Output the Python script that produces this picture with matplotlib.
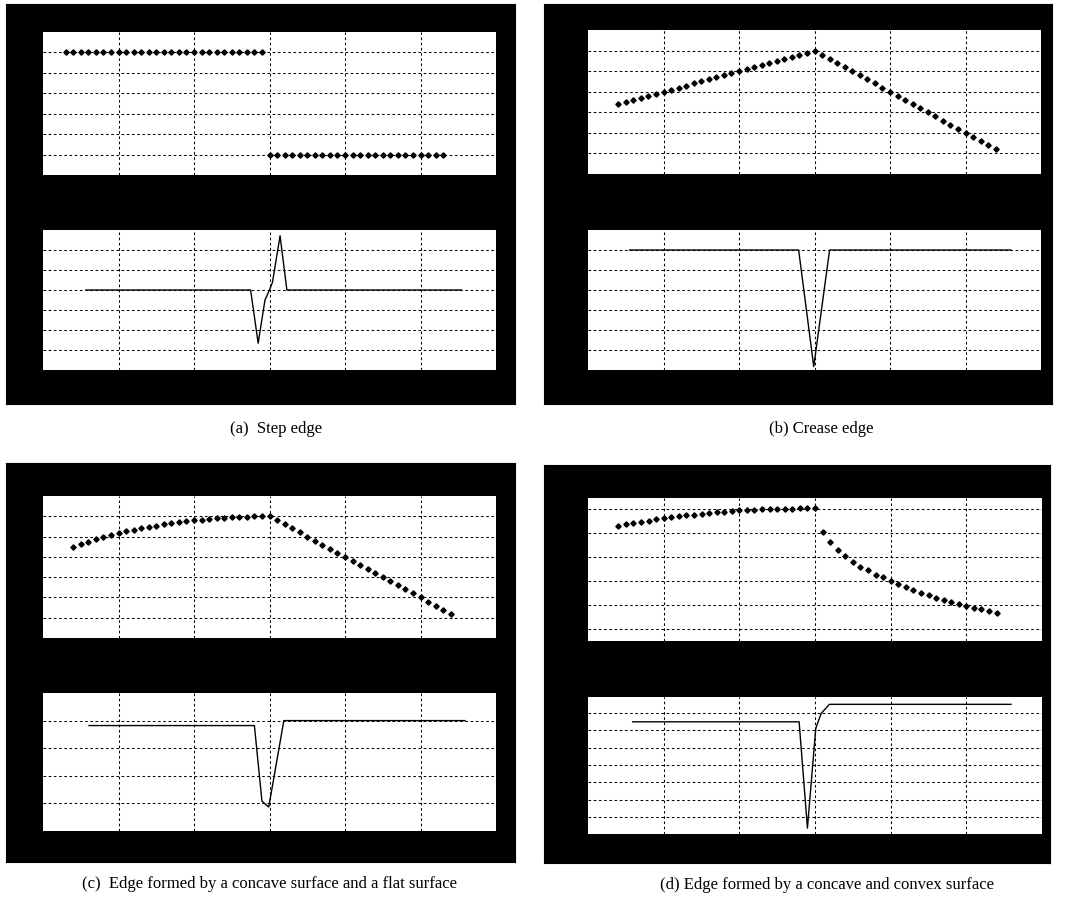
import matplotlib
matplotlib.use("Agg")
import matplotlib.pyplot as plt

W, H = 1069, 898

#%% data (x in sample units, y in grid levels)
x_pts_a = [3, 4, 5, 6, 7, 8, 9, 10, 11, 12, 13, 14, 15, 16, 17, 18, 19, 20, 21, 22, 23, 24, 25, 26, 27, 28, 29,
           30, 31, 32, 33, 34, 35, 36, 37, 38, 39, 40, 41, 42, 43, 44, 45, 46, 47, 48, 49, 50, 51, 52, 53]
y_pts_a = [6, 6, 6, 6, 6, 6, 6, 6, 6, 6, 6, 6, 6, 6, 6, 6, 6, 6, 6, 6, 6, 6, 6, 6, 6, 6, 6,
           1, 1, 1, 1, 1, 1, 1, 1, 1, 1, 1, 1, 1, 1, 1, 1, 1, 1, 1, 1, 1, 1, 1, 1]

x_pts = [4, 5, 6, 7, 8, 9, 10, 11, 12, 13, 14, 15, 16, 17, 18, 19, 20, 21, 22, 23, 24, 25, 26, 27, 28, 29, 30,
         31, 32, 33, 34, 35, 36, 37, 38, 39, 40, 41, 42, 43, 44, 45, 46, 47, 48, 49, 50, 51, 52, 53, 54]
y_pts_b = [3.4, 3.5, 3.6, 3.7, 3.8, 3.9, 4.0, 4.1, 4.2, 4.3, 4.4, 4.5, 4.6, 4.7, 4.8, 4.9, 5.0, 5.1, 5.2,
           5.3, 5.4, 5.5, 5.6, 5.7, 5.8, 5.9, 6.0,
           5.8, 5.6, 5.4, 5.2, 5.0, 4.8, 4.6, 4.4, 4.2, 4.0, 3.8, 3.6, 3.4, 3.2, 3.0, 2.8, 2.6, 2.4,
           2.2, 2.0, 1.8, 1.6, 1.4, 1.2]
y_pts_c = [4.51, 4.64, 4.75, 4.88, 4.96, 5.08, 5.17, 5.27, 5.34, 5.40, 5.47, 5.53, 5.60, 5.66, 5.71,
           5.76, 5.81, 5.84, 5.87, 5.90, 5.94, 5.95, 5.97, 5.98, 6.0, 6.0, 6.0,
           5.81, 5.61, 5.40, 5.21, 5.00, 4.79, 4.58, 4.40, 4.19, 3.99, 3.78, 3.59, 3.39, 3.18, 3.00,
           2.81, 2.62, 2.41, 2.20, 2.00, 1.79, 1.60, 1.39, 1.19]
y_pts_d = [4.29, 4.36, 4.40, 4.45, 4.50, 4.56, 4.60, 4.64, 4.68, 4.72, 4.75, 4.79, 4.82, 4.85, 4.86,
           4.90, 4.93, 4.94, 4.96, 4.97, 4.99, 4.99, 5.0, 5.0, 5.01, 5.01, 5.01,
           4.02, 3.60, 3.30, 3.05, 2.80, 2.60, 2.44, 2.27, 2.15, 2.01, 1.87, 1.76, 1.63, 1.52, 1.41,
           1.32, 1.23, 1.15, 1.07, 0.98, 0.90, 0.83, 0.76, 0.69]

# lower traces (polyline vertices)
x_line_a = [5.7, 27.5, 28.5, 29.4, 30.0, 30.4, 31.4, 32.3, 55.4]
y_line_a = [4, 4, 1.34, 3.5, 4.0, 4.4, 6.71, 4, 4]
x_line_b = [5.5, 27.9, 29.9, 32.0, 56]
y_line_b = [6, 6, 0.17, 6, 6]
x_line_c = [6.1, 28.0, 29.0, 29.9, 31.9, 55.9]
y_line_c = [3.82, 3.82, 1.08, 0.87, 4.0, 4.0]
x_line_d = [5.9, 27.9, 29.0, 30.1, 30.8, 31.9, 55.9]
y_line_d = [5.47, 5.47, -0.61, 5.09, 5.94, 6.47, 6.47]

captions = ["(a)  Step edge", "(b) Crease edge",
            "(c)  Edge formed by a concave surface and a flat surface",
            "(d) Edge formed by a concave and convex surface"]


def rect(x0, y0, x1, y1):
    return [x0 / W, 1 - y1 / H, (x1 - x0) / W, (y1 - y0) / H]


def grid_axes(fig, r, ylim, yticks):
    ax = fig.add_axes(r)
    ax.set_facecolor("white")
    ax.set_xlim(0, 60)
    ax.set_ylim(*ylim)
    ax.set_xticks([10, 20, 30, 40, 50])
    ax.set_yticks(yticks)
    ax.tick_params(length=0, labelbottom=False, labelleft=False)
    for s in ax.spines.values():
        s.set_visible(False)
    ax.grid(True, color="black", linestyle=(0, (2.5, 2.5)), linewidth=0.75)
    ax.set_axisbelow(True)
    return ax


fig = plt.figure(figsize=(W / 100, H / 100), dpi=100)

boxes = [(6, 4, 515, 404), (544, 4, 1052, 404), (6, 463, 515, 862), (544, 465, 1050, 863)]
for b in boxes:
    bg = fig.add_axes(rect(*b))
    bg.set_facecolor("black")
    bg.set_xticks([])
    bg.set_yticks([])

mk = dict(linestyle="none", marker="D", markersize=2.7, color="black")
ln = dict(color="black", linewidth=1.0)

#%% (a)
ax = grid_axes(fig, rect(43, 32, 496, 175), (0, 7), [1, 2, 3, 4, 5, 6])
ax.plot(x_pts_a, y_pts_a, **mk)
ax = grid_axes(fig, rect(43, 230, 496, 370), (0, 7), [1, 2, 3, 4, 5, 6])
ax.plot(x_line_a, y_line_a, **ln)

#%% (b)
ax = grid_axes(fig, rect(588, 30, 1041, 174), (0, 7), [1, 2, 3, 4, 5, 6])
ax.plot(x_pts, y_pts_b, **mk)
ax = grid_axes(fig, rect(588, 230, 1041, 370), (0, 7), [1, 2, 3, 4, 5, 6])
ax.plot(x_line_b, y_line_b, **ln)

#%% (c)
ax = grid_axes(fig, rect(43, 496, 496, 638), (0, 7), [1, 2, 3, 4, 5, 6])
ax.plot(x_pts, y_pts_c, **mk)
ax = grid_axes(fig, rect(43, 693, 496, 831), (0, 5), [1, 2, 3, 4])
ax.plot(x_line_c, y_line_c, **ln)

#%% (d)
ax = grid_axes(fig, rect(588, 498, 1042, 641), (-0.48, 5.44), [0, 1, 2, 3, 4, 5])
ax.plot(x_pts, y_pts_d, **mk)
ax = grid_axes(fig, rect(588, 697, 1042, 834), (-0.95, 6.89), [0, 1, 2, 3, 4, 5, 6])
ax.plot(x_line_d, y_line_d, **ln)

#%% captions
cap_pos = [(276, 429), (821, 429), (269, 884), (827, 885)]
for (cx, cy), t in zip(cap_pos, captions):
    fig.text(cx / W, 1 - cy / H, t, ha="center", va="center",
             family=["Liberation Serif", "DejaVu Serif"], fontsize=12)

fig.savefig("out.png", dpi=100)
